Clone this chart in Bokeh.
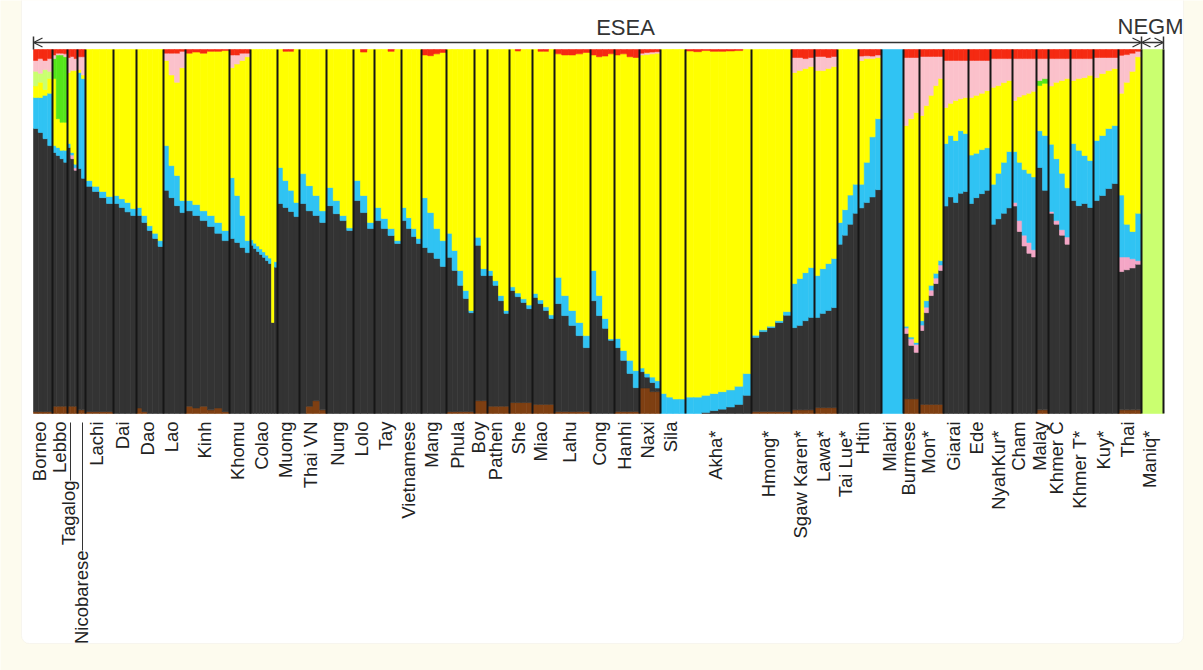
import math
from bokeh.plotting import figure
from bokeh.models import ColumnDataSource, Range1d, BoxAnnotation, Arrow, OpenHead
from bokeh.core.properties import value
from bokeh.embed import file_html
from bokeh.resources import INLINE

# ---------------- data (ancestry proportions, cumulative tops in %) ----------------
POPULATIONS = ["Borneo", "Lebbo", "Tagalog", "Nicobarese", "Lachi", "Dai", "Dao", "Lao",
               "Kinh", "Khomu", "Colao", "Muong", "Thai VN", "Nung", "Lolo", "Tay",
               "Vietnamese", "Mang", "Phula", "Boy", "Pathen", "She", "Miao", "Lahu",
               "Cong", "Hanhi", "Naxi", "Sila", "Akha*", "Hmong*", "Sgaw Karen*", "Lawa*",
               "Tai Lue*", "Htin", "Mlabri", "Burmese", "Mon*", "Giarai", "Ede", "NyahKur*",
               "Cham", "Malay", "Khmer Č", "Khmer T*", "Kuy*", "Thai", "Maniq*"]

SIZES = [19, 15, 10, 8, 28, 23, 27, 22, 44, 21, 27, 22, 27, 27, 21, 27,
         20, 25, 28, 13, 22, 23, 22, 36, 24, 25, 21, 25, 66, 40, 23, 23,
         21, 23, 22, 16, 24, 25, 22, 22, 24, 12, 22, 23, 25, 23, 22]

GROUPS = ["ESEA", "NEGM"]

BROWN = [0.5, 2, 2, 1, 0.5, 0, [1.5, 0.5, 0, 0, 0], 0,
         [2, 1.5, 2, 1, 1.5, 0.5], 0, 0, 0, [0, 2, 3.5, 1], 0, 0, 0,
         0, 0, 0.5, 3.5, 2, 3, 2.5, 0.5,
         0, 0.5, [7, 7, 6, 6], 0, 0, 0.5, 1, 1.6,
         0, 0, 0, 4, 2.5, 0, 0, 0,
         0, 1, 0, 0, 0, 1, 0]

DARK_TOP = [[78.3, 77.2, 75.5, 73.6], [71.7, 70.9, 70, 69], [73.1, 70, 66.8], [67.3, 64.6],
            [62.4, 61, 59.3, 57.7], [57.7, 56.6, 55.4, 54.4], [54.4, 52.5, 50.3, 48.1, 45.9],
            [61.3, 59.3, 57.1, 55.2], [55.7, 54.4, 53, 51.4, 49.5, 47.5], [48.1, 47, 45.6, 44.2],
            [46.2, 45.3, 44.5, 43.7, 42.9, 42, 41.2, 25, 40.2], [57.7, 56.6, 55.5, 54.1],
            [57.7, 55.7, 54.4, 52.5], [57.1, 54.9, 53, 50.3], [58.5, 55.2, 50.8],
            [53, 50.8, 48.9, 46.7], [53, 50.8, 48.6, 46.7], [45.6, 44.2, 42.6, 40.4],
            [42.9, 39.3, 35.2, 31.6, 27.7], [46.2, 37.9], [37.9, 35.2, 31, 27.5],
            [33.8, 32.1, 30.5, 28.8], [31.9, 30.2, 28.3, 26.1], [30.2, 26.9, 24.2, 21.4, 18.1],
            [31, 26.9, 23.4, 20.1], [18.1, 14.6, 11, 7.1], [11.5, 10, 8.5, 7], 0,
            [0, 0, 0.3, 0.8, 1.2, 1.8, 2.5, 5], [20.9, 22.5, 23.6, 25, 27],
            [23.6, 24.2, 25.5, 26.4], [26.4, 27.5, 28.3, 29.1], [46.5, 49, 52, 55],
            [56.5, 58, 59.5, 61.5], 0, [22, 18.7, 16.8], [22.8, 27.7, 32.4, 35.7, 39.3],
            [57, 59.5, 58, 60.5, 61], [57.7, 59.3, 60.4, 61.3], [52, 53.5, 55, 56.5],
            [57, 50, 46, 44, 43], [67.6, 61.3], [55, 52, 49, 46.5], [58.5, 57.1, 57.7, 56.6],
            [58.5, 59.9, 61.8, 63.2], [39, 39.5, 40, 41], 0]

ORCHID_TOP = [None, None, [73.1, 71, 67.5], None, None, None, None, None,
              None, None, None, None, None, None, None, None,
              None, None, None, None, None, None, None, None,
              None, None, None, None, None, None, None, None,
              None, None, None, [23.5, 20.5, 19], [24.3, 29.2, 33.9, 37.2, 40.8], None, None, None,
              [58, 53, 49, 47, 45], None, [55.5, 53, 50.5, 48.5], None, None, [43, 43, 42.5, 42], None]

BLUE_TOP = [[86.8, 86.8, 87.4, 88], [73.6, 73.1, 72.3, 72.3], [74.2, 71.7, 68.5], [93.7, 92],
            [64, 62.4, 61, 59.6], [59.9, 59, 58, 56.3], [56.6, 54.4, 51.6, 49.5, 47.5],
            [73.6, 68.1, 65.4, 58.5], [58.5, 57.4, 55.7, 54.4, 52.5, 50.3], [64.8, 59.9, 54.4, 47.5],
            [47.7, 46.8, 46, 45.2, 44.4, 43.5, 42.7, 25, 41.7], [67.6, 64, 61.3, 58],
            [65.9, 62.6, 59.9, 55.7], [62.1, 58.5, 54.4, 51], [64, 59.9, 52.5],
            [56.6, 53.6, 50.8, 47.5], [56.6, 53.8, 50.8, 48.1], [59.3, 55.2, 50.8, 47.5],
            [49.5, 44.8, 39.3, 33.8, 28.3], [48.4, 39.8], [39.3, 36.5, 32.4, 28.3],
            [34.8, 33.1, 31.5, 29.8], [33, 31.2, 29.3, 27.1], [37.4, 32.4, 28.3, 25, 21.4],
            [39.3, 32.4, 26.1, 20.5], [20.6, 17.3, 14.6, 11.8], [12.5, 11, 10, 9], [5.5, 4.5, 4, 4],
            [4.5, 4.5, 5, 5.5, 6, 6.5, 7.5, 11], [21.5, 23, 24, 25.5, 28],
            [35.7, 37.1, 38.7, 40.1], [37.9, 39.8, 41.2, 42.6], [52.5, 56, 60, 63],
            [63, 69, 76, 81], 100, [24, 21, 19.5], [25.5, 31, 35.2, 38.5, 42],
            [74.2, 76.4, 75, 77.7, 76.9], [71, 71.5, 72.5, 73], [63, 66, 69, 72],
            [72, 69, 67, 66, 65], [77.7, 76.4], [74, 70, 66, 62], [74.2, 72.3, 70.9, 69.5],
            [75, 76.4, 78.3, 79.1], [60, 52, 50, 55], None]

YELLOW_TOP = [[90, 91, 89, 92], [92, 81, 80, 80], [93.7, 94.2, 94.2], [94.5, 93],
              100, 100, 100, [97, 93, 91, 95], [99, 99.3, 99, 99.5, 99.5, 99.7],
              [95, 96, 97, 98], 100, [100, 99.5, 99.5, 100], 100, 100, [100, 99.3, 100],
              [100, 100, 99.5, 100],
              100, [98.5, 98.3, 98.8, 99.2], 100, 100, 100, [100, 99.6, 100, 100],
              [100, 99.5, 99.5, 100],
              [98.8, 98.5, 98.5, 98.8, 99.2], [98.5, 98, 98.2, 98.8], [98.5, 98.8, 98, 97.8],
              [98.5, 98.6, 98.8, 99], 100, [99.6, 99.4, 99.7, 99.5, 99.5, 99.6, 99.7, 100],
              100, [93.7, 94.2, 94.8, 95.3], [94.2, 94.2, 94.8, 95.3], 100,
              [97, 97.5, 97.5, 97.8], None, [79.1, 81, 82.7], [81.9, 84.6, 87.4, 90.1, 92],
              [84.1, 85.2, 86, 86.5, 86.8], [86.8, 87.4, 88, 88.7], [89.6, 90.1, 90.9, 91.5],
              [86, 87, 87.5, 88, 88.5], [90.1, 90.7], [90, 91, 91.5, 92], [91.5, 92, 92.3, 92.9],
              [92.3, 93.4, 94.2, 94.8], [88, 91, 94, 98], None]

LIME_TOP = [[94, 93.5, 94.5, 94]] + [None] * 45 + [100]

GREEN_TOP = [None, [97.5, 98.5, 98.5, 98]] + [None] * 39 + [[91.5, 92]] + [None] * 5

PINK_TOP = [[97, 97.5, 97, 97.5], [98.5, 99, 99, 98.8], [97.8, 98.1, 97.5], [98, 98],
            None, None, None, [99, 99, 99, 99.5], None, [98.5, 98.5, 99, 99],
            None, None, None, None, None, None,
            None, None, None, None, None, None, None, None,
            None, None, [99, 99.2, 99.3, 99.4], None, None, None,
            [97.8, 97.8, 97.5, 97.8], [98.1, 98.1, 97.8, 98.1],
            None, [98.2, 98.3, 98.2, 98.5], None, 97.8, 98.1, 97, 97, 97.5,
            97.5, 97.5, 97.5, 97.5, 97.8, [98.4, 98.6, 99, 99.5], None]

# ---------------- styles ----------------
COLORS = {"brown": "#7E3F12", "dark": "#333333", "orchid": "#F4A6C6", "blue": "#30C3F3",
          "yellow": "#FFFF00", "lime": "#CAFF70", "green": "#55E61A", "pink": "#FBC1CB",
          "red": "#F52A12"}
LAYERS = [("brown", BROWN), ("dark", DARK_TOP), ("orchid", ORCHID_TOP), ("blue", BLUE_TOP),
          ("yellow", YELLOW_TOP), ("lime", LIME_TOP), ("green", GREEN_TOP), ("pink", PINK_TOP)]

FONT = value("Liberation Sans")
W, H = 1203, 670
BAR_L, BAR_R, BAR_T, BAR_B = 33, 1163, 49, 413   # page pixels of the bar block

N_TOTAL = sum(SIZES)
sx = (BAR_R - BAR_L) / N_TOTAL
sy = (BAR_B - BAR_T) / 100.0


def px2x(px):
    return (px - BAR_L) / sx


def px2y(py):
    return (BAR_B - py) / sy


p = figure(width=W, height=H, output_backend="svg", toolbar_location=None,
           x_range=Range1d(px2x(0), px2x(W)),
           y_range=Range1d(px2y(H), px2y(0)),
           min_border=0, outline_line_color=None)
p.axis.visible = False
p.grid.visible = False
p.background_fill_color = "#FDFBEE"
p.border_fill_color = "#FDFBEE"

card = BoxAnnotation(left=px2x(21), right=px2x(1183), top=px2y(-20), bottom=px2y(643),
                     fill_color="white", fill_alpha=1, line_color="#E8E6DC", line_width=1,
                     border_radius=8, level="underlay")
p.add_layout(card)

# ---------------- stacked bars ----------------
cum = [0]
for s in SIZES:
    cum.append(cum[-1] + s)

L, R, B, T, C = [], [], [], [], []
for i, pop in enumerate(POPULATIONS):
    k = 1
    for _, arr in LAYERS:
        e = arr[i]
        if isinstance(e, list):
            k = max(k, len(e))
    w = SIZES[i] / k
    for j in range(k):
        x0 = cum[i] + j * w
        x1 = x0 + w
        prev = 0.0
        for name, arr in LAYERS:
            e = arr[i]
            if e is None:
                top = prev
            elif isinstance(e, list):
                top = e[j]
            else:
                top = e
            top = max(top, prev)
            if top > prev:
                L.append(x0); R.append(x1); B.append(prev); T.append(top); C.append(COLORS[name])
            prev = top
        if prev < 100:
            L.append(x0); R.append(x1); B.append(prev); T.append(100); C.append(COLORS["red"])

src = ColumnDataSource(dict(left=L, right=R, bottom=B, top=T, color=C))
p.quad(left="left", right="right", bottom="bottom", top="top", source=src,
       fill_color="color", line_color="color", line_width=0.6)

# population separators
seps = cum[1:]
p.segment(x0=seps, y0=[0] * len(seps), x1=seps, y1=[100] * len(seps),
          line_color="#161616", line_width=2)

# ---------------- group arrows ----------------
esea_end = cum[POPULATIONS.index("Maniq*")]
arrow_y = px2y(42)
for xa, xb in [(0, esea_end), (esea_end, N_TOTAL)]:
    p.add_layout(Arrow(x_start=xa, y_start=arrow_y, x_end=xb, y_end=arrow_y,
                       line_color="#333333", line_width=1.5,
                       start=OpenHead(size=9, line_color="#333333", line_width=1.3),
                       end=OpenHead(size=9, line_color="#333333", line_width=1.3)))
ticks = [0, esea_end, N_TOTAL]
p.segment(x0=ticks, y0=[px2y(36)] * 3, x1=ticks, y1=[px2y(49)] * 3,
          line_color="#333333", line_width=1.5)
p.text(x=[px2x(625), px2x(1150)], y=[px2y(27), px2y(26)], text=GROUPS,
       text_font=FONT, text_font_size="22px", text_color="#333333",
       text_align="center", text_baseline="middle")

# ---------------- population labels ----------------
LABEL_NUDGE = {"Borneo": -4, "Lebbo": -1, "Tagalog": -4, "Nicobarese": 0, "Htin": -8, "Cham": -6}
LABEL_DROP = {"Tagalog": 480, "Nicobarese": 550}
lx, ly, lt = [], [], []
for i, pop in enumerate(POPULATIONS):
    cx = (cum[i] + cum[i + 1]) / 2 + (LABEL_NUDGE.get(pop, -3) / sx)
    top_px = LABEL_DROP.get(pop, 430 if pop.endswith("*") else 421)
    lx.append(cx); ly.append(px2y(top_px)); lt.append(pop)
p.text(x=lx, y=ly, text=lt, angle=math.pi / 2, text_align="right", text_baseline="middle",
       text_font=FONT, text_font_size="18.5px", text_color="#222222")

# leader lines for the pushed-down labels
p.segment(x0=[px2x(70), px2x(82)], y0=[px2y(422), px2y(422)],
          x1=[px2x(70), px2x(82)], y1=[px2y(480), px2y(550)],
          line_color="#333333", line_width=1)

open("out.html", "w").write(file_html(p, INLINE))
